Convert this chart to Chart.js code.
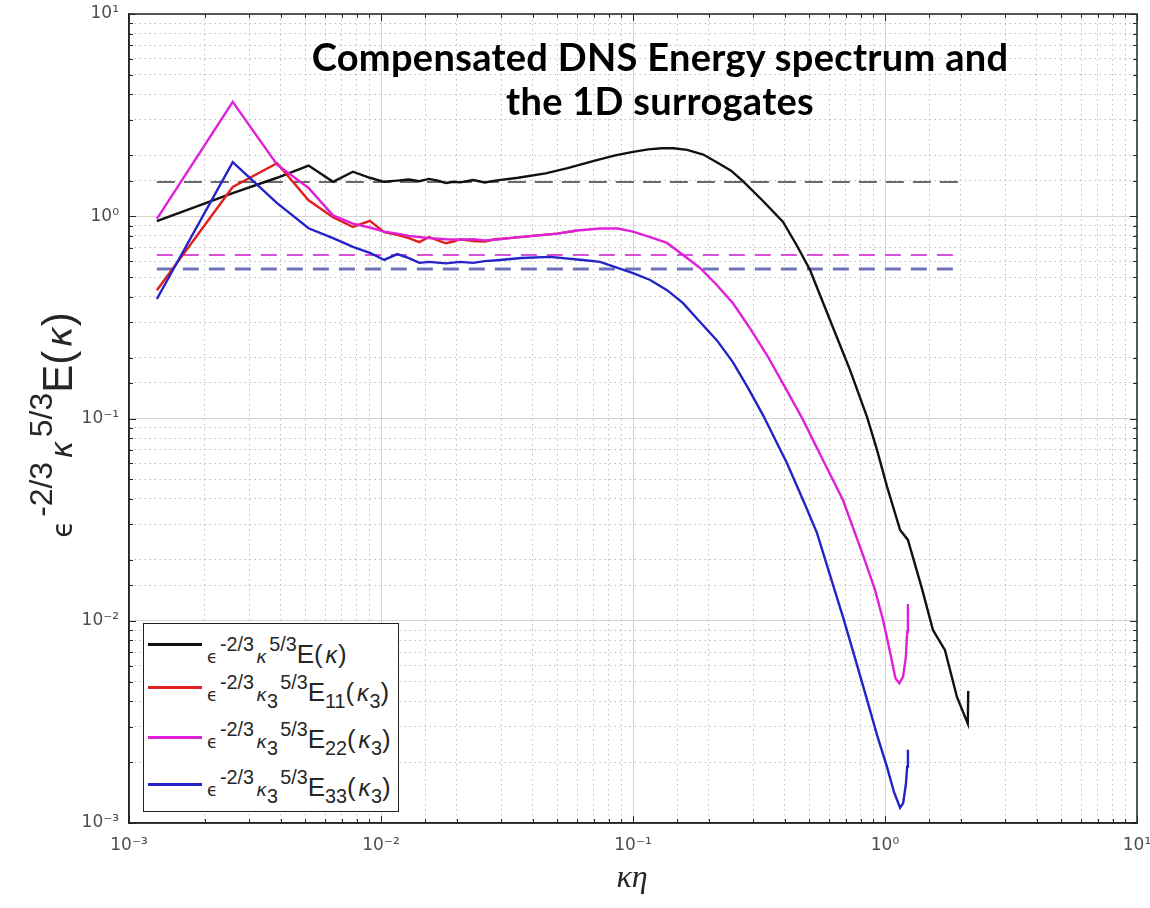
<!DOCTYPE html>
<html>
<head>
<meta charset="utf-8">
<script src="https://cdn.jsdelivr.net/npm/chart.js@4.4.0/dist/chart.umd.min.js"></script>
<style>
  html, body { margin: 0; padding: 0; background: #fff; }
  #wrap { position: relative; width: 1150px; height: 908px; overflow: hidden; font-family: 'Liberation Sans', Arial, sans-serif; }
  #c { position: absolute; left: 0; top: 0; }
  #title { position: absolute; left: 160px; top: 34px; width: 1000px; text-align: center; font-family: Lato, 'Open Sans', sans-serif; font-weight: bold; font-size: 38px; line-height: 44px; letter-spacing: 0.3px; color: #000; }
  #ylab { position: absolute; left: -142px; top: 404px; width: 400px; height: 42px; line-height: 42px; font-size: 42px; text-align: center; transform: rotate(-90deg); color: #262626; white-space: nowrap; }
  #xlab { position: absolute; left: 532px; top: 858px; width: 200px; text-align: center; font-family: 'Liberation Serif', serif; font-style: italic; font-size: 32px; color: #262626; }
  sup, sub { line-height: 0; font-size: 0.76em; }
  sup { vertical-align: 0.63em; margin-left: 0.12em; }
  sub { vertical-align: -0.37em; }
  .ge { font-family: 'DejaVu Sans', sans-serif; font-size: 0.66em; }
  .gk { font-family: 'DejaVu Sans', sans-serif; font-style: italic; font-size: 0.7em; margin-left: 0.12em; }
  .gk2 { font-family: 'DejaVu Sans', sans-serif; font-style: italic; font-size: 0.85em; margin-left: 0.1em; }
  #legend { position: absolute; left: 143px; top: 623px; width: 256px; height: 189px; box-sizing: border-box; border: 1.5px solid #222; background: #fff; }
  .sw { position: absolute; left: 4px; width: 54px; height: 3px; }
  .lt { position: absolute; left: 63px; font-size: 26px; line-height: 26px; color: #262626; white-space: nowrap; }
</style>
</head>
<body>
<div id="wrap">
  <canvas id="c" width="1150" height="908"></canvas>
  <div id="title">Compensated DNS Energy spectrum and<br>the 1D surrogates</div>
  <div id="ylab"><span class="ge">ϵ</span><sup>-2/3</sup><span class="gk">κ</span><sup>5/3</sup>E(<span class="gk2">κ</span>)</div>
  <div id="xlab">κη</div>
  <div id="legend">
    <div class="sw" style="top:19px;background:#111"></div>
    <div class="lt" style="top:17px"><span class="ge">ϵ</span><sup>-2/3</sup><span class="gk">κ</span><sup>5/3</sup>E(<span class="gk2">κ</span>)</div>
    <div class="sw" style="top:62px;background:#e01f1f"></div>
    <div class="lt" style="top:55px"><span class="ge">ϵ</span><sup>-2/3</sup><span class="gk">κ</span><sub>3</sub><sup>5/3</sup>E<sub>11</sub>(<span class="gk2">κ</span><sub>3</sub>)</div>
    <div class="sw" style="top:112px;background:#e020d8"></div>
    <div class="lt" style="top:102px"><span class="ge">ϵ</span><sup>-2/3</sup><span class="gk">κ</span><sub>3</sub><sup>5/3</sup>E<sub>22</sub>(<span class="gk2">κ</span><sub>3</sub>)</div>
    <div class="sw" style="top:159px;background:#2323c8"></div>
    <div class="lt" style="top:150px"><span class="ge">ϵ</span><sup>-2/3</sup><span class="gk">κ</span><sub>3</sub><sup>5/3</sup>E<sub>33</sub>(<span class="gk2">κ</span><sub>3</sub>)</div>
  </div>
</div>
<script>
// DNS compensated spectrum (black)
const kBlack = [0.00129, 0.00258, 0.00387, 0.00516, 0.00645, 0.00774, 0.00903, 0.0103, 0.0116, 0.0129, 0.0142, 0.0155, 0.0168, 0.0181, 0.0194, 0.0206, 0.0232, 0.0258, 0.0284, 0.035, 0.045, 0.055, 0.07, 0.085, 0.1, 0.115, 0.13, 0.145, 0.164, 0.19, 0.215, 0.245, 0.273, 0.328, 0.394, 0.448, 0.504, 0.616, 0.726, 0.849, 0.93, 1.02, 1.148, 1.233, 1.40, 1.55, 1.73, 1.93, 2.13, 2.14];
const eBlack = [0.947, 1.3, 1.55, 1.78, 1.48, 1.66, 1.55, 1.48, 1.5, 1.52, 1.49, 1.53, 1.5, 1.46, 1.48, 1.47, 1.51, 1.47, 1.5, 1.55, 1.63, 1.73, 1.88, 2.0, 2.08, 2.14, 2.17, 2.17, 2.13, 2.02, 1.85, 1.68, 1.49, 1.19, 0.937, 0.713, 0.542, 0.29, 0.174, 0.1016, 0.0698, 0.0458, 0.0281, 0.0251, 0.0145, 0.009, 0.00716, 0.0042, 0.0031, 0.0045];

// 1D surrogates
const kRed = [0.00129, 0.00258, 0.00387, 0.00516, 0.00645, 0.00774, 0.00903, 0.0103, 0.0116, 0.0129, 0.0142, 0.0155, 0.0168, 0.0181, 0.0194, 0.0206, 0.0232, 0.0258, 0.0284, 0.0323, 0.04, 0.05, 0.06];
const eRed = [0.431, 1.395, 1.83, 1.2, 0.99, 0.885, 0.95, 0.835, 0.81, 0.78, 0.745, 0.79, 0.76, 0.735, 0.75, 0.77, 0.755, 0.75, 0.77, 0.78, 0.8, 0.82, 0.85];

const kPink = [0.00129, 0.00258, 0.00387, 0.00516, 0.00645, 0.00774, 0.00903, 0.0103, 0.0116, 0.0129, 0.0142, 0.0155, 0.0181, 0.0206, 0.0232, 0.0258, 0.0284, 0.0323, 0.04, 0.05, 0.06, 0.074, 0.087, 0.1, 0.117, 0.1365, 0.158, 0.1845, 0.215, 0.249, 0.291, 0.34, 0.401, 0.473, 0.567, 0.681, 0.818, 0.913, 0.982, 1.047, 1.10, 1.14, 1.18, 1.21, 1.225, 1.233];
const ePink = [0.97, 3.68, 1.8, 1.38, 1.01, 0.92, 0.88, 0.84, 0.82, 0.8, 0.79, 0.78, 0.77, 0.765, 0.77, 0.76, 0.765, 0.78, 0.8, 0.82, 0.85, 0.87, 0.87, 0.84, 0.789, 0.738, 0.643, 0.555, 0.457, 0.372, 0.28, 0.206, 0.143, 0.0984, 0.0624, 0.0395, 0.0211, 0.0142, 0.0101, 0.007, 0.0052, 0.0049, 0.0053, 0.0066, 0.0088, 0.0121];

const kBlue = [0.00129, 0.00258, 0.00387, 0.00516, 0.00645, 0.00774, 0.00903, 0.0103, 0.0116, 0.0129, 0.0142, 0.0155, 0.0181, 0.0206, 0.0232, 0.0258, 0.0297, 0.036, 0.047, 0.063, 0.074, 0.1, 0.117, 0.1365, 0.158, 0.1845, 0.215, 0.249, 0.286, 0.328, 0.408, 0.473, 0.537, 0.605, 0.681, 0.76, 0.849, 0.93, 1.019, 1.086, 1.148, 1.18, 1.21, 1.225, 1.233];
const eBlue = [0.39, 1.85, 1.16, 0.872, 0.78, 0.705, 0.66, 0.608, 0.65, 0.62, 0.588, 0.595, 0.585, 0.595, 0.588, 0.6, 0.608, 0.622, 0.63, 0.608, 0.595, 0.523, 0.484, 0.431, 0.372, 0.30, 0.244, 0.19, 0.1416, 0.104, 0.0602, 0.0395, 0.0272, 0.0168, 0.01045, 0.00655, 0.00406, 0.00272, 0.00189, 0.00142, 0.00119, 0.00125, 0.00155, 0.0019, 0.0023];

// dashed reference levels
const kRef = [0.00129, 2.02];
const refBlack = [1.476, 1.476];
const refPink = [0.643, 0.643];
const refBlue = [0.548, 0.548];

const supMap = { '-': '\u207B', '0': '\u2070', '1': '\u00B9', '2': '\u00B2', '3': '\u00B3' };

function pts(xs, ys) {
    return xs.map((x, i) => ({ x: x, y: ys[i] }));
}
function isMajor(v) {
    let e = Math.log10(v);
    return Math.abs(e - Math.round(e)) < 1e-6;
}
function decadeLabel(v) {
    if (!isMajor(v)) return '';
    return '10' + String(Math.round(Math.log10(v))).split('').map(c => supMap[c]).join('');
}

function line(data, color, width, dash) {
    return {
        data: data,
        borderColor: color,
        borderWidth: width,
        borderDash: dash || [],
        pointRadius: 0,
        tension: 0,
        fill: false,
    };
}

const axisOpts = {
    type: 'logarithmic',
    min: 0.001,
    max: 10,
    border: {
        display: true,
        color: '#262626',
        width: 1.5,
        dash: function (ctx) {
            return ctx.tick && isMajor(ctx.tick.value) ? [] : [1.5, 3.5];
        },
    },
    grid: {
        drawTicks: false,
        color: function (ctx) {
            return ctx.tick && isMajor(ctx.tick.value) ? '#d4d4d4' : '#bdbdbd';
        },
        lineWidth: 1,
    },
    ticks: {
        autoSkip: false,
        maxRotation: 0,
        color: '#4d4d4d',
        font: { family: "'DejaVu Sans', 'Liberation Sans', sans-serif", size: 17 },
        callback: function (value) {
            return decadeLabel(value);
        },
    },
};

// box around the plot with inward tick marks, MATLAB style
const boxTicks = {
    id: 'boxTicks',
    afterDatasetsDraw(chart) {
        const { ctx, chartArea: a, scales } = chart;
        ctx.save();
        ctx.strokeStyle = '#262626';
        ctx.lineWidth = 1;
        ctx.beginPath();
        scales.x.ticks.forEach(t => {
            const p = Math.round(scales.x.getPixelForValue(t.value)) + 0.5;
            const len = isMajor(t.value) ? 7 : 4;
            ctx.moveTo(p, a.bottom); ctx.lineTo(p, a.bottom - len);
            ctx.moveTo(p, a.top); ctx.lineTo(p, a.top + len);
        });
        scales.y.ticks.forEach(t => {
            const p = Math.round(scales.y.getPixelForValue(t.value)) + 0.5;
            const len = isMajor(t.value) ? 7 : 4;
            ctx.moveTo(a.left, p); ctx.lineTo(a.left + len, p);
            ctx.moveTo(a.right, p); ctx.lineTo(a.right - len, p);
        });
        ctx.stroke();
        ctx.lineWidth = 1.5;
        ctx.strokeRect(a.left, a.top, a.right - a.left, a.bottom - a.top);
        ctx.restore();
    },
};

new Chart(document.getElementById('c'), {
    type: 'line',
    data: {
        datasets: [
            line(pts(kBlue, eBlue), '#2323c8', 2.4),
            line(pts(kPink, ePink), '#e020d8', 2.4),
            line(pts(kRed, eRed), '#e01f1f', 2.4),
            line(pts(kBlack, eBlack), '#111111', 2.4),
            line(pts(kRef, refBlack), '#3a3a3a', 1.6, [18, 9]),
            line(pts(kRef, refPink), '#d84fd8', 2, [16, 10]),
            line(pts(kRef, refBlue), '#6f73b8', 3, [16, 10]),
        ],
    },
    options: {
        responsive: false,
        animation: false,
        layout: { padding: { top: 14, right: 13, left: 0, bottom: 0 } },
        plugins: {
            legend: { display: false },
            tooltip: { enabled: false },
            title: { display: false },
        },
        scales: {
            x: Object.assign({}, axisOpts, {
                position: 'bottom',
                ticks: Object.assign({}, axisOpts.ticks, { padding: 12 }),
                afterFit: function (s) {
                    s.height = 85;
                    s.paddingLeft = 0;
                    s.paddingRight = 0;
                },
            }),
            y: Object.assign({}, axisOpts, {
                position: 'left',
                ticks: Object.assign({}, axisOpts.ticks, { padding: 10 }),
                afterFit: function (s) {
                    s.width = 129;
                    s.paddingTop = 0;
                    s.paddingBottom = 0;
                },
            }),
        },
    },
    plugins: [boxTicks],
});
</script>
</body>
</html>
